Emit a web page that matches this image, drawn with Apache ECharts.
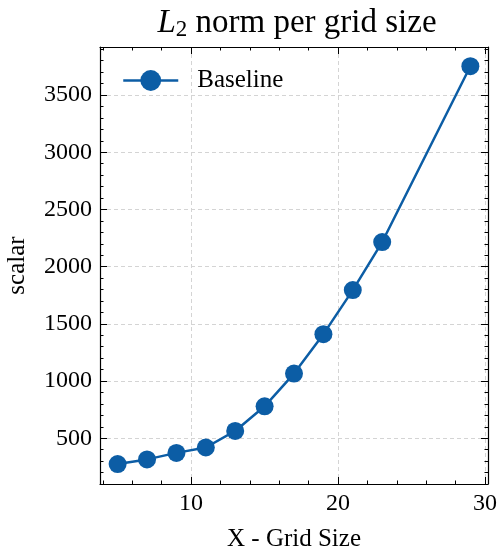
<!DOCTYPE html>
<html><head><meta charset="utf-8">
<script src="https://cdn.jsdelivr.net/npm/echarts@6/dist/echarts.min.js"></script>
<style>html,body{margin:0;padding:0;background:#fff}#c{width:500px;height:552px}</style>
</head><body><div id="c"></div>
<script>
const gridSizes = [5, 7, 9, 11, 13, 15, 17, 19, 21, 23, 29];
const baseline = [274, 315, 372, 419, 564, 779, 1065, 1410, 1795, 2215, 3752];
const seriesName = 'Baseline';
const xMajorTicks = [10, 20, 30];
const xMinorTicks = [4, 6, 8, 12, 14, 16, 18, 22, 24, 26, 28];
const yMajorTicks = [500, 1000, 1500, 2000, 2500, 3000, 3500];
const yMinorTicks = [200, 300, 400, 600, 700, 800, 900, 1100, 1200, 1300, 1400,
  1600, 1700, 1800, 1900, 2100, 2200, 2300, 2400, 2600, 2700, 2800, 2900,
  3100, 3200, 3300, 3400, 3600, 3700, 3800, 3900];
const X_MIN = 3.8, X_MAX = 30.2, Y_MIN = 100, Y_MAX = 3920;

const FONT = 'Liberation Serif';
const COLOR = '#0C5DA5';

function mkAxis(pos, min, max, ticks, len, opts) {
  opts = opts || {};
  return Object.assign({
    type: 'value', position: pos, min: min, max: max, gridIndex: 0,
    axisLine: { show: !!opts.line, onZero: false, lineStyle: { color: '#000', width: 1.2 } },
    axisTick: { show: true, inside: true, length: len, customValues: ticks, lineStyle: { color: '#000', width: 1 } },
    axisLabel: opts.label ? { show: true, customValues: ticks, margin: 8, color: '#000', fontFamily: FONT, fontSize: 24,
      formatter: v => String(v) } : { show: false },
    splitLine: opts.split ? { show: true, lineStyle: { color: '#d4d4d4', width: 1, type: [4, 3] } } : { show: false },
    minorTick: { show: false }
  }, opts.extra || {});
}

const chart = echarts.init(document.getElementById('c'), null, { renderer: 'canvas' });
chart.setOption({
  animation: false,
  backgroundColor: '#fff',
  title: {
    text: '{i|L}{s|2} norm per grid size',
    left: 292, top: 1, textAlign: 'center',
    textStyle: {
      fontFamily: FONT, fontSize: 33, fontWeight: 'normal', color: '#000',
      rich: {
        i: { fontFamily: FONT, fontSize: 33, fontStyle: 'italic', color: '#000' },
        s: { fontFamily: FONT, fontSize: 23, color: '#000', padding: [12, 0, 0, 0] }
      }
    }
  },
  legend: {
    left: 117, top: 63, itemWidth: 55, itemHeight: 26,
    data: [seriesName],
    lineStyle: { width: 2.5 },
    textStyle: { fontFamily: FONT, fontSize: 25, color: '#000', padding: [0, 0, 0, 14] }
  },
  grid: { left: 100, right: 12, top: 47, bottom: 68, containLabel: false, outerBoundsMode: 'none' },
  xAxis: [
    mkAxis('bottom', X_MIN, X_MAX, xMajorTicks, 7, { line: true, label: true, split: true, extra: {
      name: 'X - Grid Size', nameLocation: 'middle', nameGap: 43,
      nameTextStyle: { fontFamily: FONT, fontSize: 25, color: '#000' } } }),
    mkAxis('top', X_MIN, X_MAX, xMajorTicks, 7, { line: true }),
    mkAxis('bottom', X_MIN, X_MAX, xMinorTicks, 3.5, {}),
    mkAxis('top', X_MIN, X_MAX, xMinorTicks, 3.5, {})
  ],
  yAxis: [
    mkAxis('left', Y_MIN, Y_MAX, yMajorTicks, 7, { line: true, label: true, split: true, extra: {
      name: 'scalar', nameLocation: 'middle', nameGap: 70,
      nameTextStyle: { fontFamily: FONT, fontSize: 25, color: '#000' } } }),
    mkAxis('right', Y_MIN, Y_MAX, yMajorTicks, 7, { line: true }),
    mkAxis('left', Y_MIN, Y_MAX, yMinorTicks, 3.5, {}),
    mkAxis('right', Y_MIN, Y_MAX, yMinorTicks, 3.5, {})
  ],
  series: [{
    name: seriesName, type: 'line', xAxisIndex: 0, yAxisIndex: 0,
    data: gridSizes.map((x, i) => [x, baseline[i]]),
    symbol: 'circle', symbolSize: 18, showSymbol: true,
    lineStyle: { color: COLOR, width: 2.5 },
    itemStyle: { color: COLOR },
    z: 5
  }]
});
</script></body></html>
